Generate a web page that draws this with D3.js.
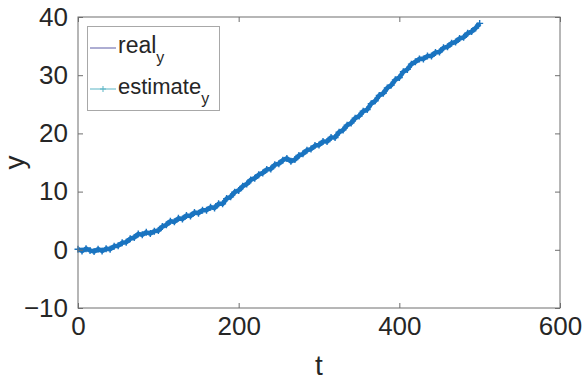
<!DOCTYPE html>
<html><head>
<meta charset="utf-8">
<script src="https://d3js.org/d3.v7.min.js"></script>
<style>
  body { margin: 0; background: #fff; }
  text { font-family: "Liberation Sans", Arial, Helvetica, sans-serif; fill: #262626; }
</style>
</head>
<body>
<svg id="chart" width="582" height="381"></svg>
<script>

// t values for the estimate (every 5 steps) and for the real track (every 10 steps)
const tEst = d3.range(0, 501, 5);
const estimateY = [
  0.1, -0.2, 0.2, -0.1, -0.3, 0.1, -0.2, 0.2, 0.1, 0.6,
  0.7, 1.2, 1.3, 1.9, 2.1, 2.7, 2.6, 3.0, 2.8, 3.2,
  3.3, 4.0, 4.3, 4.9, 4.8, 5.4, 5.3, 5.9, 5.8, 6.4,
  6.3, 6.8, 6.8, 7.3, 7.2, 7.9, 7.9, 8.8, 9.1, 9.9,
  10.2, 10.9, 11.3, 12.0, 12.3, 12.9, 13.2, 13.8, 13.9, 14.6,
  14.8, 15.4, 15.7, 15.2, 15.5, 16.2, 16.5, 17.1, 17.3, 17.9,
  18.0, 18.6, 18.6, 19.3, 19.3, 20.2, 20.6, 21.4, 21.8, 22.6,
  23.0, 23.8, 24.1, 25.1, 25.6, 26.5, 26.9, 27.8, 28.3, 29.2,
  29.6, 30.6, 31.0, 31.9, 32.3, 32.8, 32.8, 33.3, 33.3, 33.9,
  34.0, 34.7, 34.9, 35.5, 35.7, 36.3, 36.5, 37.2, 37.5, 38.1,
  38.9
];
const tReal = d3.range(0, 501, 10);
const realY = [
  0.0, 0.05, -0.15, -0.1, 0.3, 0.8, 1.5, 2.2, 2.8, 2.9,
  3.4, 4.4, 5.0, 5.5, 6.0, 6.45, 6.9, 7.4, 8.1, 9.2,
  10.3, 11.4, 12.4, 13.3, 14.1, 14.9, 15.6, 15.6, 16.6, 17.4,
  18.1, 18.7, 19.4, 20.7, 21.9, 23.1, 24.2, 25.7, 27.0, 28.4,
  29.7, 31.1, 32.4, 32.9, 33.4, 34.1, 35.0, 35.8, 36.6, 37.6,
  38.9
];
const xTicks = [0, 200, 400, 600];
const yTicks = [-10, 0, 10, 20, 30, 40];

const svg = d3.select("#chart");
const margin = {top: 17, right: 22, bottom: 73, left: 78};
const W = 582, H = 381;
const plotW = W - margin.left - margin.right;
const plotH = H - margin.top - margin.bottom;

const x = d3.scaleLinear().domain([0, 600]).range([0, plotW]);
const y = d3.scaleLinear().domain([-10, 40]).range([plotH, 0]);

const g = svg.append("g").attr("transform", `translate(${margin.left},${margin.top})`);

// data lines
const real = tReal.map((t, i) => [t, realY[i]]);
const est = tEst.map((t, i) => [t, estimateY[i]]);
const line = d3.line().x(d => x(d[0])).y(d => y(d[1]));

g.append("path").datum(real).attr("d", line)
  .attr("fill", "none").attr("stroke", "#2a2a9a").attr("stroke-width", 1);

g.append("path").datum(est).attr("d", line)
  .attr("fill", "none").attr("stroke", "#1a74c0").attr("stroke-width", 4.6)
  .attr("stroke-linejoin", "round");

g.selectAll("path.plus").data(est).join("path")
  .attr("class", "plus")
  .attr("d", d => `M${x(d[0]) - 3.5},${y(d[1])}h7M${x(d[0])},${y(d[1]) - 3.5}v7`)
  .attr("stroke", "#1a74c0").attr("stroke-width", 1.4);

// box and inward ticks (MATLAB style)
const axisColor = "#6e6e6e";
g.append("rect").attr("width", plotW).attr("height", plotH)
  .attr("fill", "none").attr("stroke", axisColor).attr("stroke-width", 1);

g.append("g").call(d3.axisBottom(x).tickValues(xTicks).tickSize(-5).tickPadding(9).tickFormat(d3.format("d")))
  .attr("transform", `translate(0,${plotH})`)
  .call(a => a.select(".domain").remove())
  .call(a => a.selectAll("line").attr("stroke", axisColor))
  .call(a => a.selectAll("text").attr("font-size", 26).attr("fill", "#262626"));

g.append("g").call(d3.axisTop(x).tickValues(xTicks).tickSize(-5).tickFormat(""))
  .call(a => a.select(".domain").remove())
  .call(a => a.selectAll("line").attr("stroke", axisColor));

g.append("g").call(d3.axisLeft(y).tickValues(yTicks).tickSize(-5).tickPadding(10).tickFormat(d3.format("d")))
  .call(a => a.select(".domain").remove())
  .call(a => a.selectAll("line").attr("stroke", axisColor))
  .call(a => a.selectAll("text").attr("font-size", 26).attr("fill", "#262626"));

g.append("g").call(d3.axisRight(y).tickValues(yTicks).tickSize(-5).tickFormat(""))
  .attr("transform", `translate(${plotW},0)`)
  .call(a => a.select(".domain").remove())
  .call(a => a.selectAll("line").attr("stroke", axisColor));

// axis labels
svg.append("text").attr("x", margin.left + plotW / 2).attr("y", 375)
  .attr("text-anchor", "middle").attr("font-size", 28).text("t");
svg.append("text")
  .attr("transform", `translate(24,${margin.top + plotH / 2}) rotate(-90)`)
  .attr("text-anchor", "middle").attr("font-size", 28).text("y");

// legend
const legend = svg.append("g");
legend.append("rect").attr("x", 87.5).attr("y", 26.5).attr("width", 132).attr("height", 84)
  .attr("fill", "#fff").attr("stroke", "#a8a8a8").attr("stroke-width", 1);

legend.append("line").attr("x1", 90).attr("x2", 116).attr("y1", 48).attr("y2", 48)
  .attr("stroke", "#5c5ca6").attr("stroke-width", 1);
legend.append("line").attr("x1", 90).attr("x2", 116).attr("y1", 89).attr("y2", 89)
  .attr("stroke", "#5bb5c5").attr("stroke-width", 1);
legend.append("path").attr("d", "M100,89h6M103,86v6")
  .attr("stroke", "#5bb5c5").attr("stroke-width", 1);

const t1 = legend.append("text").attr("x", 118).attr("y", 53).attr("font-size", 23);
t1.append("tspan").text("real");
t1.append("tspan").attr("font-size", 16).attr("dy", 10).text("y");

const t2 = legend.append("text").attr("x", 118).attr("y", 94).attr("font-size", 22);
t2.append("tspan").text("estimate");
t2.append("tspan").attr("font-size", 16).attr("dy", 10).text("y");

</script>
</body>
</html>
